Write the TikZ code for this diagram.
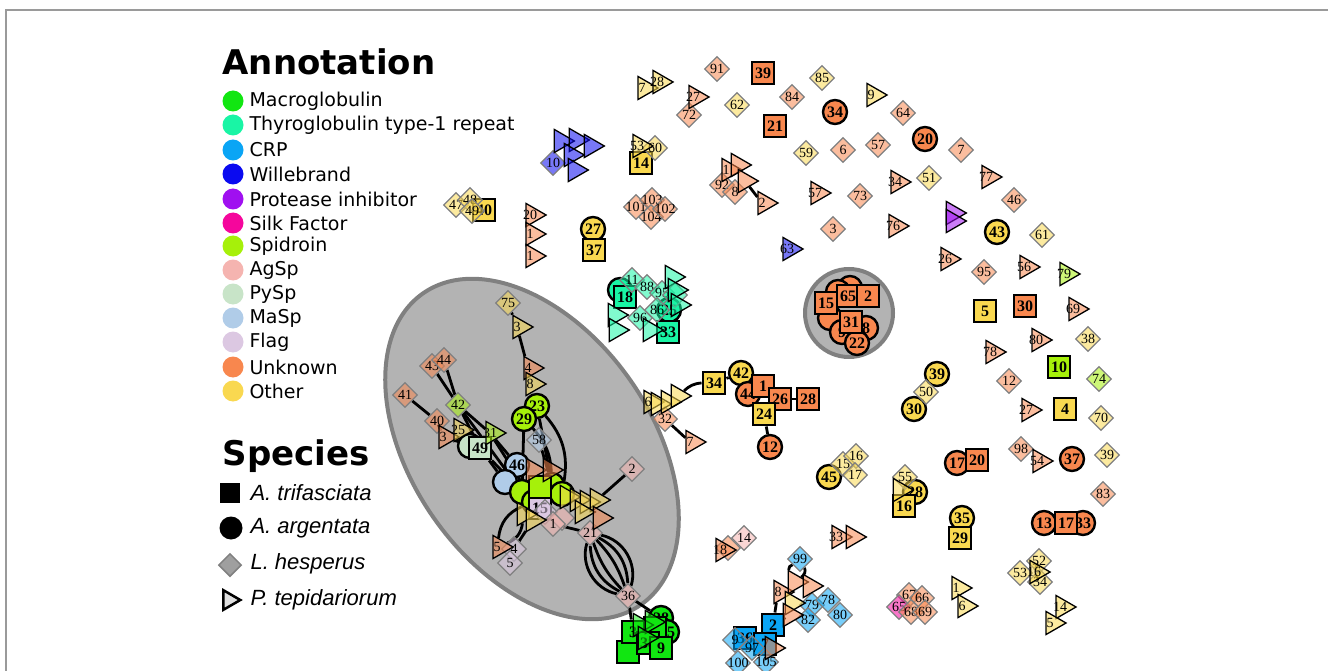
\documentclass[tikz,border=0pt]{standalone}
\usepackage{fontspec}
\setmainfont{Liberation Serif}
\newfontfamily\legfont{DejaVu Sans}
\newfontfamily\spfont{Liberation Sans}
\usetikzlibrary{shapes.geometric}
\definecolor{cMac}{HTML}{11E611}
\definecolor{cThy}{HTML}{19F5A5}
\definecolor{cCrp}{HTML}{0AA5F5}
\definecolor{cWil}{HTML}{0A0AF0}
\definecolor{cPro}{HTML}{A010F0}
\definecolor{cSilk}{HTML}{F5069C}
\definecolor{cSpi}{HTML}{A6F00A}
\definecolor{cAgs}{HTML}{F5B4B0}
\definecolor{cPys}{HTML}{C8E4C8}
\definecolor{cMas}{HTML}{B0CCE8}
\definecolor{cFlg}{HTML}{DCC8E2}
\definecolor{cUnk}{HTML}{F8874E}
\definecolor{cOth}{HTML}{F9D850}
\definecolor{FrameGray}{HTML}{9A9A9A}
\definecolor{BlobFill}{HTML}{B3B3B3}
\definecolor{BlobLine}{HTML}{808080}
\pgfdeclarelayer{back}
\pgfdeclarelayer{links}
\pgfsetlayers{back,links,main}
\newcommand{\nlab}[1]{\makebox[0pt]{#1}}
\tikzset{
  netbase/.style={inner sep=0pt,text=black},
  sqnode/.style={netbase,rectangle,draw=black,line width=2.4pt,minimum size=22.5pt,
    font=\fontsize{16}{16}\selectfont\bfseries},
  cinode/.style={netbase,circle,draw=black,line width=2.4pt,minimum size=24pt,
    font=\fontsize{16}{16}\selectfont\bfseries},
  dinode/.style={netbase,diamond,draw=BlobLine,line width=1.2pt,minimum size=25pt,
    fill opacity=0.55,text opacity=1,font=\fontsize{14}{14}\selectfont},
  trinode/.style={netbase,isosceles triangle,isosceles triangle apex angle=60,
    draw=black,line width=1.3pt,minimum size=20pt,
    fill opacity=0.55,text opacity=1,font=\fontsize{14}{14}\selectfont},
  link/.style={draw=black,line width=2.8pt},
  legtext/.style={anchor=west,font=\legfont\fontsize{19}{19}\selectfont},
  legtitle/.style={anchor=west,font=\legfont\bfseries\fontsize{34}{34}\selectfont},
  sptext/.style={anchor=west,font=\spfont\itshape\fontsize{22}{22}\selectfont},
}
\begin{document}
\begin{tikzpicture}[x=1pt,y=-1pt]
  \useasboundingbox (0,0) rectangle (1328,671);
  \draw[FrameGray,line width=1.3pt] (6,671) -- (6,10) -- (1328,10);

  % legend
  \node[legtitle] (annot) at (219,62) {Annotation};
  \foreach \y/\col/\name in {
    101/cMac/Macroglobulin,
    125/cThy/{Thyroglobulin type-1 repeat},
    150/cCrp/CRP,
    174/cWil/Willebrand,
    199/cPro/{Protease inhibitor},
    223/cSilk/{Silk Factor},
    246/cSpi/Spidroin,
    270/cAgs/AgSp,
    294/cPys/PySp,
    318/cMas/MaSp,
    342/cFlg/Flag,
    367/cUnk/Unknown,
    391/cOth/Other}
  {
    \fill[\col] (233,\y) circle (10.5);
    \node[legtext] (ann\y) at (246,\y) {\name};
  }
  \node[legtitle] (species) at (219,456) {Species};
  \node[fill=black,minimum size=20pt,inner sep=0pt] (kaT) at (230,493) {};
  \node[fill=black,circle,minimum size=23pt,inner sep=0pt] (kaA) at (231,528) {};
  \node[diamond,fill=gray!75,draw=gray,line width=1.5pt,minimum size=23pt,inner sep=0pt] (kaL) at (230,565) {};
  \node[isosceles triangle,isosceles triangle apex angle=60,fill=gray!25,draw=black,
    line width=2.5pt,minimum size=17pt,inner sep=0pt] (kaP) at (229,600) {};
  \node[sptext] (spT) at (247,493) {A. trifasciata};
  \node[sptext] (spA) at (247,528) {A. argentata};
  \node[sptext] (spL) at (247,564) {L. hesperus};
  \node[sptext] (spP) at (247,600) {P. tepidariorum};

  % grey blobs
  \begin{pgfonlayer}{back}
    \draw[fill=BlobFill,draw=BlobLine,line width=4pt]
      (532,449) ellipse [x radius=190,y radius=120,rotate=-55];
    \draw[fill=BlobFill,draw=BlobLine,line width=4pt] (849,313) circle (44);
  \end{pgfonlayer}

  % A. argentata
  \foreach \nm/\px/\py/\col/\txt in {
    c34/835/112/cUnk/34, c20/925/139/cUnk/20, c43/997/232/cOth/43,
    c27/593/229/cOth/27, c25/669/310/cThy/25, ct1/620/290/cThy/{},
    c39/937/374/cOth/39, c30/914/409/cOth/30, c37/1072/459/cUnk/37,
    c17/957/463/cUnk/17, c35/962/518/cOth/35, c13/1044/523/cUnk/13,
    c33/1083/523/cUnk/33, c42/741/373/cOth/42, c44/748/394/cUnk/44,
    c12/770/447/cUnk/12, c45/829/477/cOth/45, c28/915/492/cOth/28,
    c23/537/406/cSpi/23, c29/524/419/cSpi/29, c46/517/465/cMas/46,
    c46b/505/482/cMas/{}, cx1/470/446/cPys/{},
    h1/522/492/cSpi/{}, h3/552/485/cSpi/{}, h4/562/494/cSpi/{}, h2/534/502/cSpi/{},
    cu6/850/288/cUnk/{}, cu1/838/292/cUnk/{}, cu2/830/318/cUnk/{},
    cu4/842/332/cUnk/9, cu3/866/328/cUnk/8, cu5/857/343/cUnk/22,
    cm28/661/618/cMac/28, cm25/667/632/cMac/25}
    \node[cinode,fill=\col] (\nm) at (\px,\py) {\nlab{\txt}};

  % A. trifasciata
  \foreach \nm/\px/\py/\col/\txt in {
    s39/763/73/cUnk/39, s21/775/126/cUnk/21, s14/641/163/cOth/14,
    s40/484/210/cOth/40, s37/594/250/cOth/37, s18/625/297/cThy/18,
    s33/668/332/cThy/33, s5/985/311/cOth/5, s30/1025/306/cUnk/30,
    s10/1059/367/cSpi/10, s4/1065/409/cOth/4, s20/977/460/cUnk/20,
    s29/960/538/cOth/29, s17/1066/523/cUnk/17, s34/714/383/cOth/34,
    s1/763/386/cUnk/1, s26/780/399/cUnk/26, s28/808/399/cUnk/28,
    s24/764/414/cOth/24, s16/904/506/cOth/16, s2/773/625/cCrp/2,
    s36/745/638/cCrp/36, s7/765/644/cCrp/7, s49/480/448/cPys/49,
    s15/826/303/cUnk/15, s65/848/296/cUnk/65, s2b/868/296/cUnk/2,
    s31/851/322/cUnk/31, sm1/628/652/cMac/{}, sm2/655/628/cMac/{},
    sm3/633/632/cMac/3, sm38/648/643/cMac/38, sm9/661/648/cMac/9,
    sf1/540/508/cFlg/15, hs1/540/487/cSpi/{}}
    \node[sqnode,fill=\col] (\nm) at (\px,\py) {\nlab{\txt}};

  % L. hesperus
  \foreach \nm/\px/\py/\col/\txt in {
    d91/717/69/cUnk/91, d85/822/78/cOth/85, d72/689/115/cUnk/72,
    d62/737/105/cOth/62, d84/792/97/cUnk/84, d64/903/113/cUnk/64,
    d59/806/153/cOth/59, d6/843/150/cUnk/6, d57/878/145/cUnk/57,
    d7/961/150/cUnk/7, d51/929/178/cOth/51, d73/860/196/cUnk/73,
    d3/833/229/cUnk/3, d46/1014/200/cUnk/46, d61/1042/235/cOth/61,
    d95/984/272/cUnk/95, d38/1088/339/cOth/38, d12/1009/381/cUnk/12,
    d74/1099/379/cSpi/74, d50/926/392/cOth/50, d70/1101/418/cOth/70,
    d98/1021/449/cUnk/98, d39/1107/455/cOth/39, d83/1103/494/cUnk/83,
    d52/1039/561/cOth/52, d53/1020/573/cOth/53, d54/1040/582/cOth/34,
    d67/909/595/cUnk/67, d66/922/598/cUnk/66, d65/899/607/cSilk/65,
    d68/911/612/cUnk/68, d69/925/612/cUnk/69, d60/655/148/cOth/60,
    d10/553/163/cWil/10, d47/456/205/cOth/47, d48/470/200/cOth/48,
    d49/472/211/cOth/49, d101/636/207/cUnk/101, d103/652/200/cUnk/103,
    d104/651/217/cUnk/104, d102/665/209/cUnk/102, d92/722/185/cUnk/92,
    d8/735/192/cUnk/8, dt1/632/280/cThy/11, dt2/647/287/cThy/88,
    dt3/662/293/cThy/95, dt4/657/310/cThy/86, dt5/640/318/cThy/96,
    dt6/675/295/cThy/{}, d32/665/419/cUnk/32, d15/843/464/cOth/15,
    d16/856/456/cOth/16, d17/855/475/cOth/17, d55/905/477/cOth/55,
    d14/744/538/cAgs/14, d18/728/548/cUnk/{}, d99/800/559/cCrp/99,
    d79/812/605/cCrp/79, d78/828/600/cCrp/78, d80/840/615/cCrp/80,
    d82/808/620/cCrp/82, d9/735/640/cCrp/9, d97/752/648/cCrp/97,
    d100/738/663/cCrp/100, d105/766/662/cCrp/105,
    d75/508/303/cOth/75, d43/432/366/cUnk/43, d44/444/360/cUnk/44,
    d41/405/395/cUnk/41, d42/458/405/cSpi/42, d40/437/421/cUnk/40,
    d58/539/440/cMas/58, d2/632/469/cAgs/2, d21/590/533/cAgs/21,
    dfl/545/512/cFlg/{}, dag/562/518/cAgs/{}, d1/553/524/cAgs/1,
    d4/514/549/cFlg/4, d5/510/563/cFlg/5, d36/628/596/cAgs/36}
    \node[dinode,fill=\col] (\nm) at (\px,\py) {\nlab{\txt}};

  % P. tepidariorum
  \foreach \nm/\px/\py/\col/\txt in {
    t73/642/88/cOth/7, t28/657/82/cOth/28, t27/693/97/cUnk/27,
    t9/871/95/cOth/9, t77/986/177/cUnk/77, t34/895/182/cUnk/34,
    t57/815/193/cUnk/57, t76/893/226/cUnk/76, t63/787/249/cWil/63,
    tp1/953/213/cPro/{}, tp2/953/221/cPro/{}, t26/945/259/cUnk/26,
    t56/1024/267/cUnk/56, t79/1064/274/cSpi/79, t69/1073/309/cUnk/69,
    t80/1036/340/cUnk/80, t78/990/352/cUnk/78, t27b/1026/410/cUnk/27,
    t54/1037/461/cUnk/54, t16/1034/572/cOth/16, t1/956/588/cOth/1,
    t6/962/606/cOth/6, t14/1060/607/cOth/14, t5/1050/623/cOth/5,
    tw1/561/141/cWil/{}, tw2/576/140/cWil/{}, tw3/591/146/cWil/{},
    tw4/571/155/cWil/{}, tw5/575/170/cWil/{}, t53/637/146/cOth/53,
    tu1/530/215/cUnk/20, tu2/530/234/cUnk/1, tu3/530/256/cUnk/1,
    tk1/726/170/cUnk/1, tk2/738/165/cUnk/{}, tk3/745/181/cUnk/{},
    tk4/762/203/cUnk/2, tt1/672/277/cThy/{}, tt2/675/290/cThy/{},
    tt3/678/305/cThy/{}, tt4/615/315/cThy/{}, tt5/616/330/cThy/{},
    tt6/650/330/cThy/{}, to1/648/402/cOth/6, to2/658/404/cOth/{},
    to3/668/402/cOth/{}, to4/678/396/cOth/{}, t7/690/442/cUnk/7,
    t33/836/537/cUnk/33, t33b/853/537/cUnk/{}, t18/720/550/cUnk/18,
    tc1/778/592/cUnk/8, tc2/795/582/cUnk/{}, tc3/810/586/cUnk/{},
    tc4/792/603/cOth/{}, tc5/790/615/cUnk/{}, tc6/772/648/cUnk/{},
    t55b/900/490/cOth/{}, tm1/640/625/cMac/{}, tm2/652/622/cMac/{},
    tm3/645/638/cMac/{},
    t3a/517/327/cOth/3, t4x/528/368/cUnk/4, t8/530/384/cOth/8,
    t3b/443/437/cUnk/3, t25/458/430/cOth/25, t31/490/433/cSpi/31,
    tha/533/470/cUnk/{}, tr7/550/470/cUnk/{}, thb/524/514/cOth/{},
    thc/533/520/cOth/{}, tr1/567/497/cOth/{}, tr2/577/500/cOth/{},
    tr3/587/502/cOth/{}, tr4/597/500/cOth/{}, tr5/582/512/cOth/{},
    tr6/600/518/cUnk/{}, t5x/497/547/cUnk/5}
    \node[trinode,fill=\col] (\nm) at (\px,\py) {\nlab{\txt}};

  % links
  \begin{pgfonlayer}{links}
    \foreach \a/\b in {d75/t3a, t3a/t4x, t4x/t8, d43/d42, d44/d42, d41/d40,
      d40/t3b, d42/s49, d42/t31, t31/c46, s49/c46b, c29/h1, c23/h3, d58/h3,
      d42/h1, s49/h1, t31/h2, t3b/s49, d2/tr4, tr6/d21, d1/d21, thc/d4,
      d36/sm3, d36/cm28, s34/c42, c44/s1, s1/s26, s26/s28, c44/s24,
      s24/c12, d32/t7, tk3/tk4, tw4/tw5, t73/t28, s14/t53, c35/s29,
      t16/d52, t16/d54, tc1/s2, s2/tc5}
      \draw[link] (\a) -- (\b);
    \foreach \bend in {12,30,48}
    {
      \draw[link] (d21) to[bend left=\bend] (d36);
      \draw[link] (d21) to[bend right=\bend] (d36);
    }
    \draw[link] (c29) to[bend left=20] (h3);
    \draw[link] (c23) to[bend left=25] (h4);
    \draw[link] (h2) to[bend right=30] (t5x);
    \draw[link] (thb) to[bend left=30] (t5x);
    \draw[link] (s34) to[bend right=20] (to4);
    \draw[link] (d99) to[bend right=40] (tc2);
    \draw[link] (d99) to[bend left=40] (tc2);
  \end{pgfonlayer}
\end{tikzpicture}
\end{document}
